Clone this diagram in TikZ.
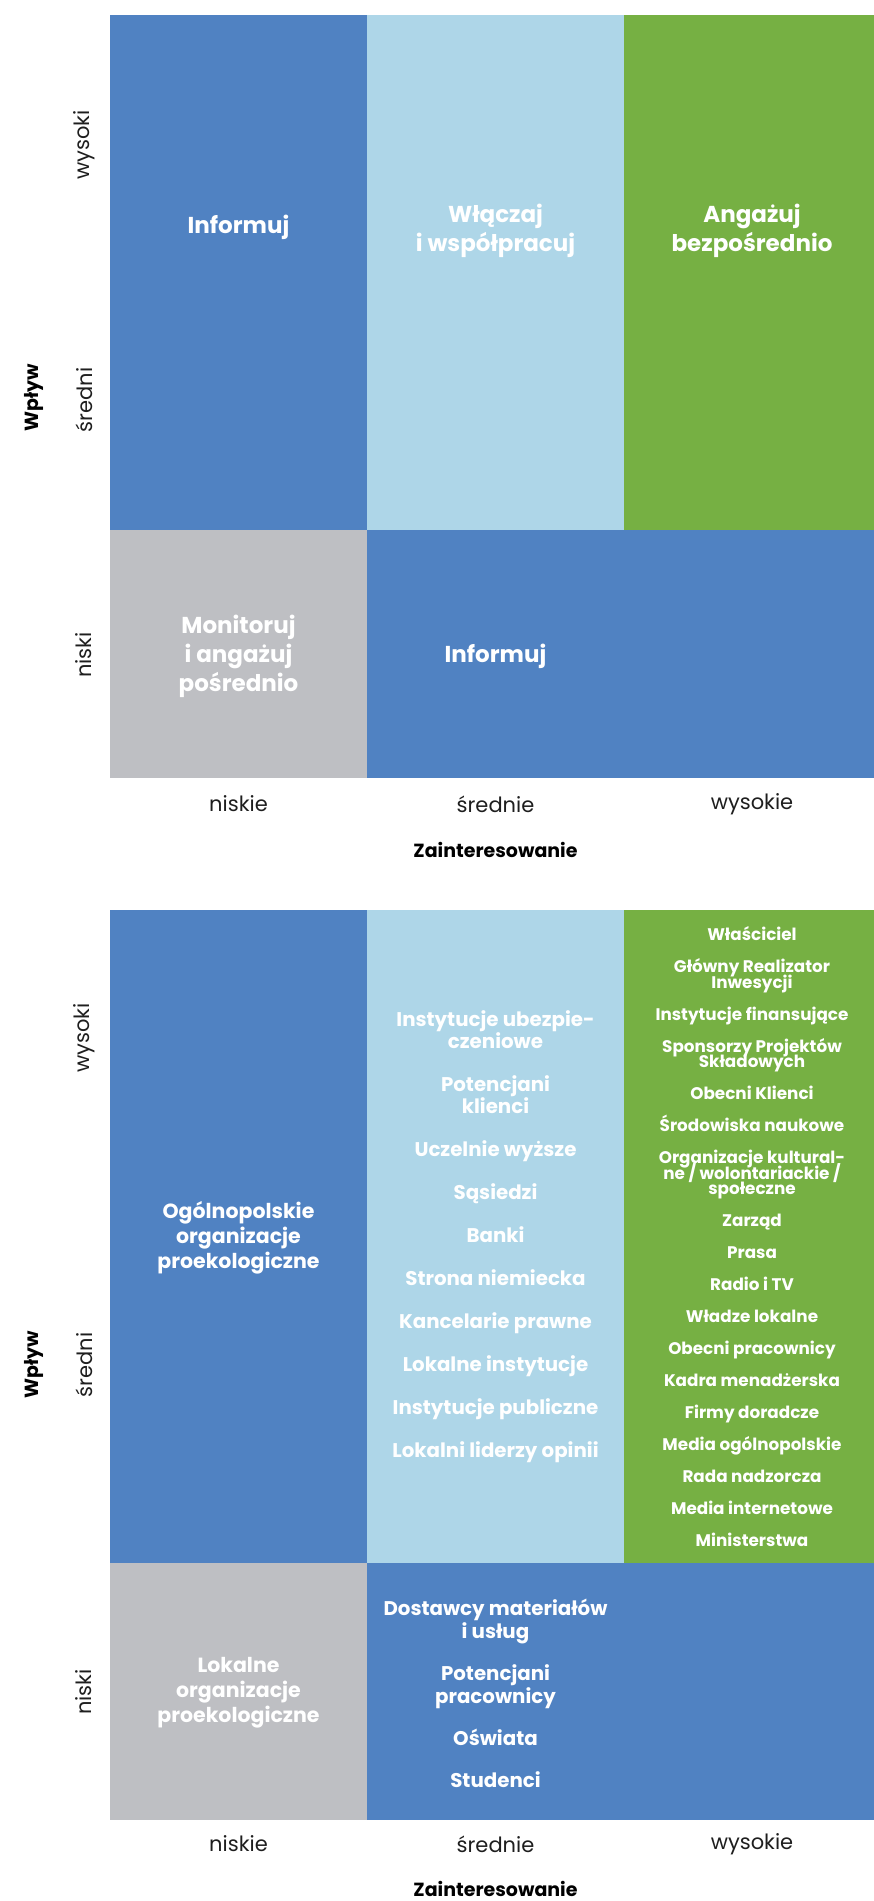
\documentclass[tikz,border=0pt]{standalone}
\usepackage{fontspec}
\setmainfont{Poppins}
\usetikzlibrary{positioning}

\definecolor{cblue}{RGB}{80,130,194}
\definecolor{clight}{RGB}{174,214,232}
\definecolor{cgreen}{RGB}{118,176,67}
\definecolor{cgray}{RGB}{190,191,195}
\definecolor{ctext}{RGB}{30,30,30}

\tikzset{
    cell/.style =     {rectangle,
                      draw=none,
                      inner sep=0pt,
                      outer sep=0pt,
                      anchor=north west},
    bigtxt/.style =   {text=white,
                      align=center,
                      font=\fontsize{23}{29}\selectfont\bfseries},
    midtxt/.style =   {text=white,
                      align=center,
                      font=\fontsize{20.5}{25}\selectfont\bfseries},
    listtxt/.style =  {text=white,
                      align=center,
                      font=\fontsize{19.8}{22}\selectfont\bfseries},
    smalltxt/.style = {text=white,
                      align=center,
                      font=\fontsize{16.8}{15.5}\selectfont\bfseries\setlength{\lineskiplimit}{-20pt}},
    ticklab/.style =  {text=ctext,
                      font=\fontsize{21}{25}\selectfont},
    axistitle/.style = {text=black,
                      font=\fontsize{19}{23}\selectfont\bfseries}
}

\begin{document}
\begin{tikzpicture}[x=1pt,y=-1pt]
    \useasboundingbox (0,0) rectangle (874,1901);

    % upper grid
    \node[cell, fill=cblue,  minimum width=257pt, minimum height=515pt] (uInf) at (110,15)  {};
    \node[cell, fill=clight, minimum width=257pt, minimum height=515pt] (uWl)  at (367,15)  {};
    \node[cell, fill=cgreen, minimum width=250pt, minimum height=515pt] (uAng) at (624,15)  {};
    \node[cell, fill=cgray,  minimum width=257pt, minimum height=248pt] (uMon) at (110,530) {};
    \node[cell, fill=cblue,  minimum width=507pt, minimum height=248pt] (uLow) at (367,530) {};

    \node[bigtxt] (uInfT) at (238.5,227) {Informuj};
    \node[bigtxt] (uWlT)  at (495.5,231) {Włączaj\\i współpracuj};
    \node[bigtxt] (uAngT) at (752,231)   {Angażuj\\bezpośrednio};
    \node[bigtxt] (uMonT) at (238.5,656) {Monitoruj\\i angażuj\\pośrednio};
    \node[bigtxt] (uLowT) at (495.5,656) {Informuj};

    \node[ticklab, rotate=90] (uHigh) at (84,145) {wysoki};
    \node[ticklab, rotate=90] (uMid)  at (84,400) {średni};
    \node[ticklab, rotate=90] (uNis)  at (84,655) {niski};
    \node[axistitle, rotate=90] (uWp) at (34,398) {Wpływ};

    \node[ticklab] (uX1) at (238.5,804) {niskie};
    \node[ticklab] (uX2) at (495.5,804) {średnie};
    \node[ticklab] (uX3) at (752,804)   {wysokie};
    \node[axistitle] (uZa) at (495.5,850) {Zainteresowanie};

    % lower grid
    \node[cell, fill=cblue,  minimum width=257pt, minimum height=653pt] (lOg)   at (110,910)  {};
    \node[cell, fill=clight, minimum width=257pt, minimum height=653pt] (lMid)  at (367,910)  {};
    \node[cell, fill=cgreen, minimum width=250pt, minimum height=653pt] (lHigh) at (624,910)  {};
    \node[cell, fill=cgray,  minimum width=257pt, minimum height=257pt] (lLok)  at (110,1563) {};
    \node[cell, fill=cblue,  minimum width=507pt, minimum height=257pt] (lLow)  at (367,1563) {};

    \node[midtxt] (lOgT)  at (238.5,1238) {Ogólnopolskie\\organizacje\\proekologiczne};
    \node[midtxt] (lLokT) at (238.5,1693) {Lokalne\\organizacje\\proekologiczne};

    \node[listtxt] (lMidT) at (495.5,1237) {Instytucje ubezpie-\\czeniowe\\[21pt]
        Potencjani\\klienci\\[21pt]
        Uczelnie wyższe\\[21pt]
        Sąsiedzi\\[21pt]
        Banki\\[21pt]
        Strona niemiecka\\[21pt]
        Kancelarie prawne\\[21pt]
        Lokalne instytucje\\[21pt]
        Instytucje publiczne\\[21pt]
        Lokalni liderzy opinii};

    \node[listtxt, font=\fontsize{19.8}{23}\selectfont\bfseries] (lLowT) at (495.5,1693) {Dostawcy materiałów\\i usług\\[19pt]
        Potencjani\\pracownicy\\[19pt]
        Oświata\\[19pt]
        Studenci};

    \node[smalltxt] (lHighT) at (752,1237) {Właściciel\\[16.5pt]
        Główny Realizator\\Inwesycji\\[16.5pt]
        Instytucje finansujące\\[16.5pt]
        Sponsorzy Projektów\\Składowych\\[16.5pt]
        Obecni Klienci\\[16.5pt]
        Środowiska naukowe\\[16.5pt]
        Organizacje kultural-\\ne / wolontariackie /\\społeczne\\[16.5pt]
        Zarząd\\[16.5pt]
        Prasa\\[16.5pt]
        Radio i TV\\[16.5pt]
        Władze lokalne\\[16.5pt]
        Obecni pracownicy\\[16.5pt]
        Kadra menadżerska\\[16.5pt]
        Firmy doradcze\\[16.5pt]
        Media ogólnopolskie\\[16.5pt]
        Rada nadzorcza\\[16.5pt]
        Media internetowe\\[16.5pt]
        Ministerstwa};

    \node[ticklab, rotate=90] (lHi)  at (84,1038) {wysoki};
    \node[ticklab, rotate=90] (lSr)  at (84,1365) {średni};
    \node[ticklab, rotate=90] (lNis) at (84,1692) {niski};
    \node[axistitle, rotate=90] (lWp) at (34,1365) {Wpływ};

    \node[ticklab] (lX1) at (238.5,1844) {niskie};
    \node[ticklab] (lX2) at (495.5,1844) {średnie};
    \node[ticklab] (lX3) at (752,1844)   {wysokie};
    \node[axistitle] (lZa) at (495.5,1889) {Zainteresowanie};
\end{tikzpicture}
\end{document}
